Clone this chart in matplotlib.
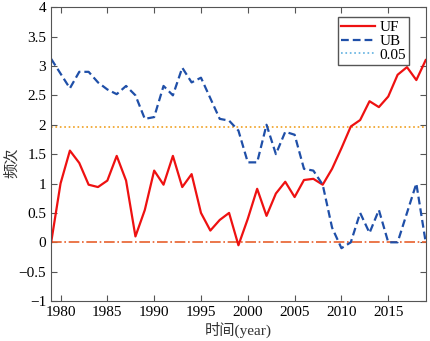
import numpy as np
import matplotlib.pyplot as plt
from matplotlib.lines import Line2D

plt.rcParams['font.family'] = ['Liberation Serif', 'Noto Sans CJK SC']
plt.rcParams['axes.unicode_minus'] = True

years = np.arange(1979, 2020)
uf = [0.0, 1.0, 1.56, 1.35, 0.98, 0.94, 1.05, 1.47, 1.05, 0.1,
      0.55, 1.22, 0.98, 1.47, 0.94, 1.16, 0.5, 0.2, 0.38, 0.5,
      -0.05, 0.4, 0.91, 0.45, 0.83, 1.03, 0.77, 1.06, 1.08, 0.98,
      1.25, 1.6, 1.97, 2.08, 2.4, 2.3, 2.48, 2.85, 2.98, 2.76, 3.1]
ub = [3.12, 2.87, 2.62, 2.9, 2.9, 2.72, 2.6, 2.52, 2.66, 2.5,
      2.1, 2.13, 2.66, 2.5, 2.97, 2.72, 2.8, 2.45, 2.1, 2.07,
      1.9, 1.36, 1.36, 2.0, 1.5, 1.88, 1.83, 1.25, 1.22, 0.98,
      0.25, -0.1, 0.0, 0.5, 0.16, 0.55, 0.0, 0.0, 0.5, 1.0, 0.0]
crit = 1.96

fig = plt.figure(figsize=(4.3, 3.41), dpi=100)
ax = fig.add_axes([0.119, 0.117, 0.871, 0.862])

ax.axhline(crit, color='#f0a020', ls=':', lw=1.2)
ax.axhline(0, color='#e8602c', ls='-.', lw=1.2)
ax.plot(years, uf, color='#ee1111', lw=1.6)
ax.plot(years, ub, color='#1f4fa8', ls=(0, (3.5, 1.8)), lw=1.6)

ax.set_xlim(1979, 2019)
ax.set_ylim(-1, 4)
ax.set_xticks(np.arange(1980, 2016, 5))
ax.set_yticks(np.arange(-1, 4.01, 0.5))
ax.set_yticklabels(['\u22121', '\u22120.5', '0', '0.5', '1', '1.5', '2', '2.5', '3', '3.5', '4'])
ax.tick_params(direction='in', top=True, right=True, labelsize=11, length=4, color='#555555')
for s in ax.spines.values():
    s.set_color('#555555')

ax.set_xlabel('时间(year)', fontsize=11, color='#333333', labelpad=2)
ax.set_ylabel('频次', fontsize=11, color='#333333')
ax.yaxis.set_label_coords(-0.085, 0.47)

handles = [Line2D([], [], color='#ee1111', lw=1.6),
           Line2D([], [], color='#1f4fa8', ls=(0, (3.5, 1.8)), lw=1.6),
           Line2D([], [], color='#5fb0e0', ls=':', lw=1.2)]
ax.legend(handles, ['UF', 'UB', '0.05'], loc='upper right', fontsize=11,
          fancybox=False, edgecolor='#555555', framealpha=1,
          handlelength=2.2, handletextpad=0.3, labelspacing=0.0,
          borderpad=0.2, borderaxespad=0, bbox_to_anchor=(0.955, 0.965))

fig.savefig('out.png', dpi=100)
